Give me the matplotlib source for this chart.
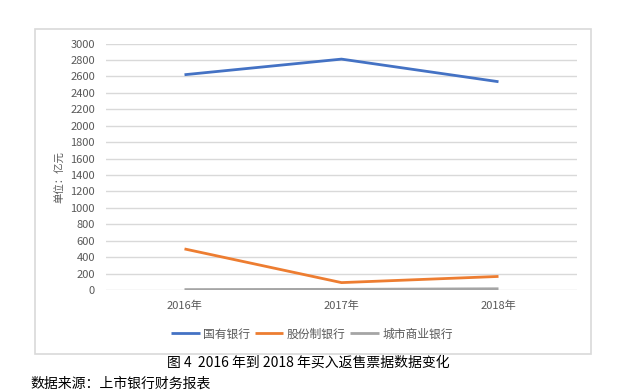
import matplotlib
matplotlib.use("Agg")
import matplotlib.pyplot as plt
from matplotlib.patches import Rectangle

plt.rcParams["font.family"] = ["Noto Sans CJK SC", "DejaVu Sans"]

years = ["2016年", "2017年", "2018年"]
state_banks = [2620, 2810, 2535]
joint_stock = [500, 90, 165]
city_banks = [5, 8, 15]
series_names = ["国有银行", "股份制银行", "城市商业银行"]
y_ticks = list(range(0, 3001, 200))

COLORS = ["#4472C4", "#ED7D31", "#A5A5A5"]
GRID = "#D9D9D9"
TICK = "#595959"

W, H = 621, 391
fig = plt.figure(figsize=(W / 100, H / 100), dpi=100)

# chart frame
fig.patches.append(Rectangle((35 / W, 1 - 354 / H), (591 - 35) / W, (354 - 29) / H,
                             transform=fig.transFigure, fill=False,
                             edgecolor=GRID, linewidth=1.2))

ax = fig.add_axes([106 / W, 1 - 290 / H, (577 - 106) / W, (290 - 43.5) / H])
x = range(len(years))
for vals, name, c in zip([state_banks, joint_stock, city_banks], series_names, COLORS):
    ax.plot(x, vals, color=c, linewidth=2.0, label=name, solid_capstyle="butt")

ax.set_xlim(-0.5, len(years) - 0.5)
ax.set_ylim(0, 3000)
ax.set_yticks(y_ticks)
ax.set_xticks(list(x))
ax.set_xticklabels(years)
ax.grid(axis="y", color=GRID, linewidth=1.0)
ax.set_axisbelow(True)
for s in ax.spines.values():
    s.set_visible(False)
ax.tick_params(axis="both", length=0, labelsize=8, colors=TICK)
ax.tick_params(axis="y", pad=8)
ax.tick_params(axis="x", pad=8)

fig.text(60 / W, 1 - 177 / H, "单位：亿元", rotation=90, ha="center", va="center",
         fontsize=7.5, color=TICK)

ax.legend(loc="center", bbox_to_anchor=(312 / W, 1 - 334 / H),
          bbox_transform=fig.transFigure, ncol=3, frameon=False, fontsize=8.5,
          handlelength=2.4, handletextpad=0.3, columnspacing=0.4,
          labelcolor=TICK)

fig.text(308 / W, 1 - 363 / H, "图 4  2016 年到 2018 年买入返售票据数据变化",
         ha="center", va="center", fontsize=10, color="black")
fig.text(30 / W, 1 - 384 / H, "数据来源：上市银行财务报表",
         ha="left", va="center", fontsize=10, color="black")

fig.savefig("out.png", dpi=100, facecolor="white")
